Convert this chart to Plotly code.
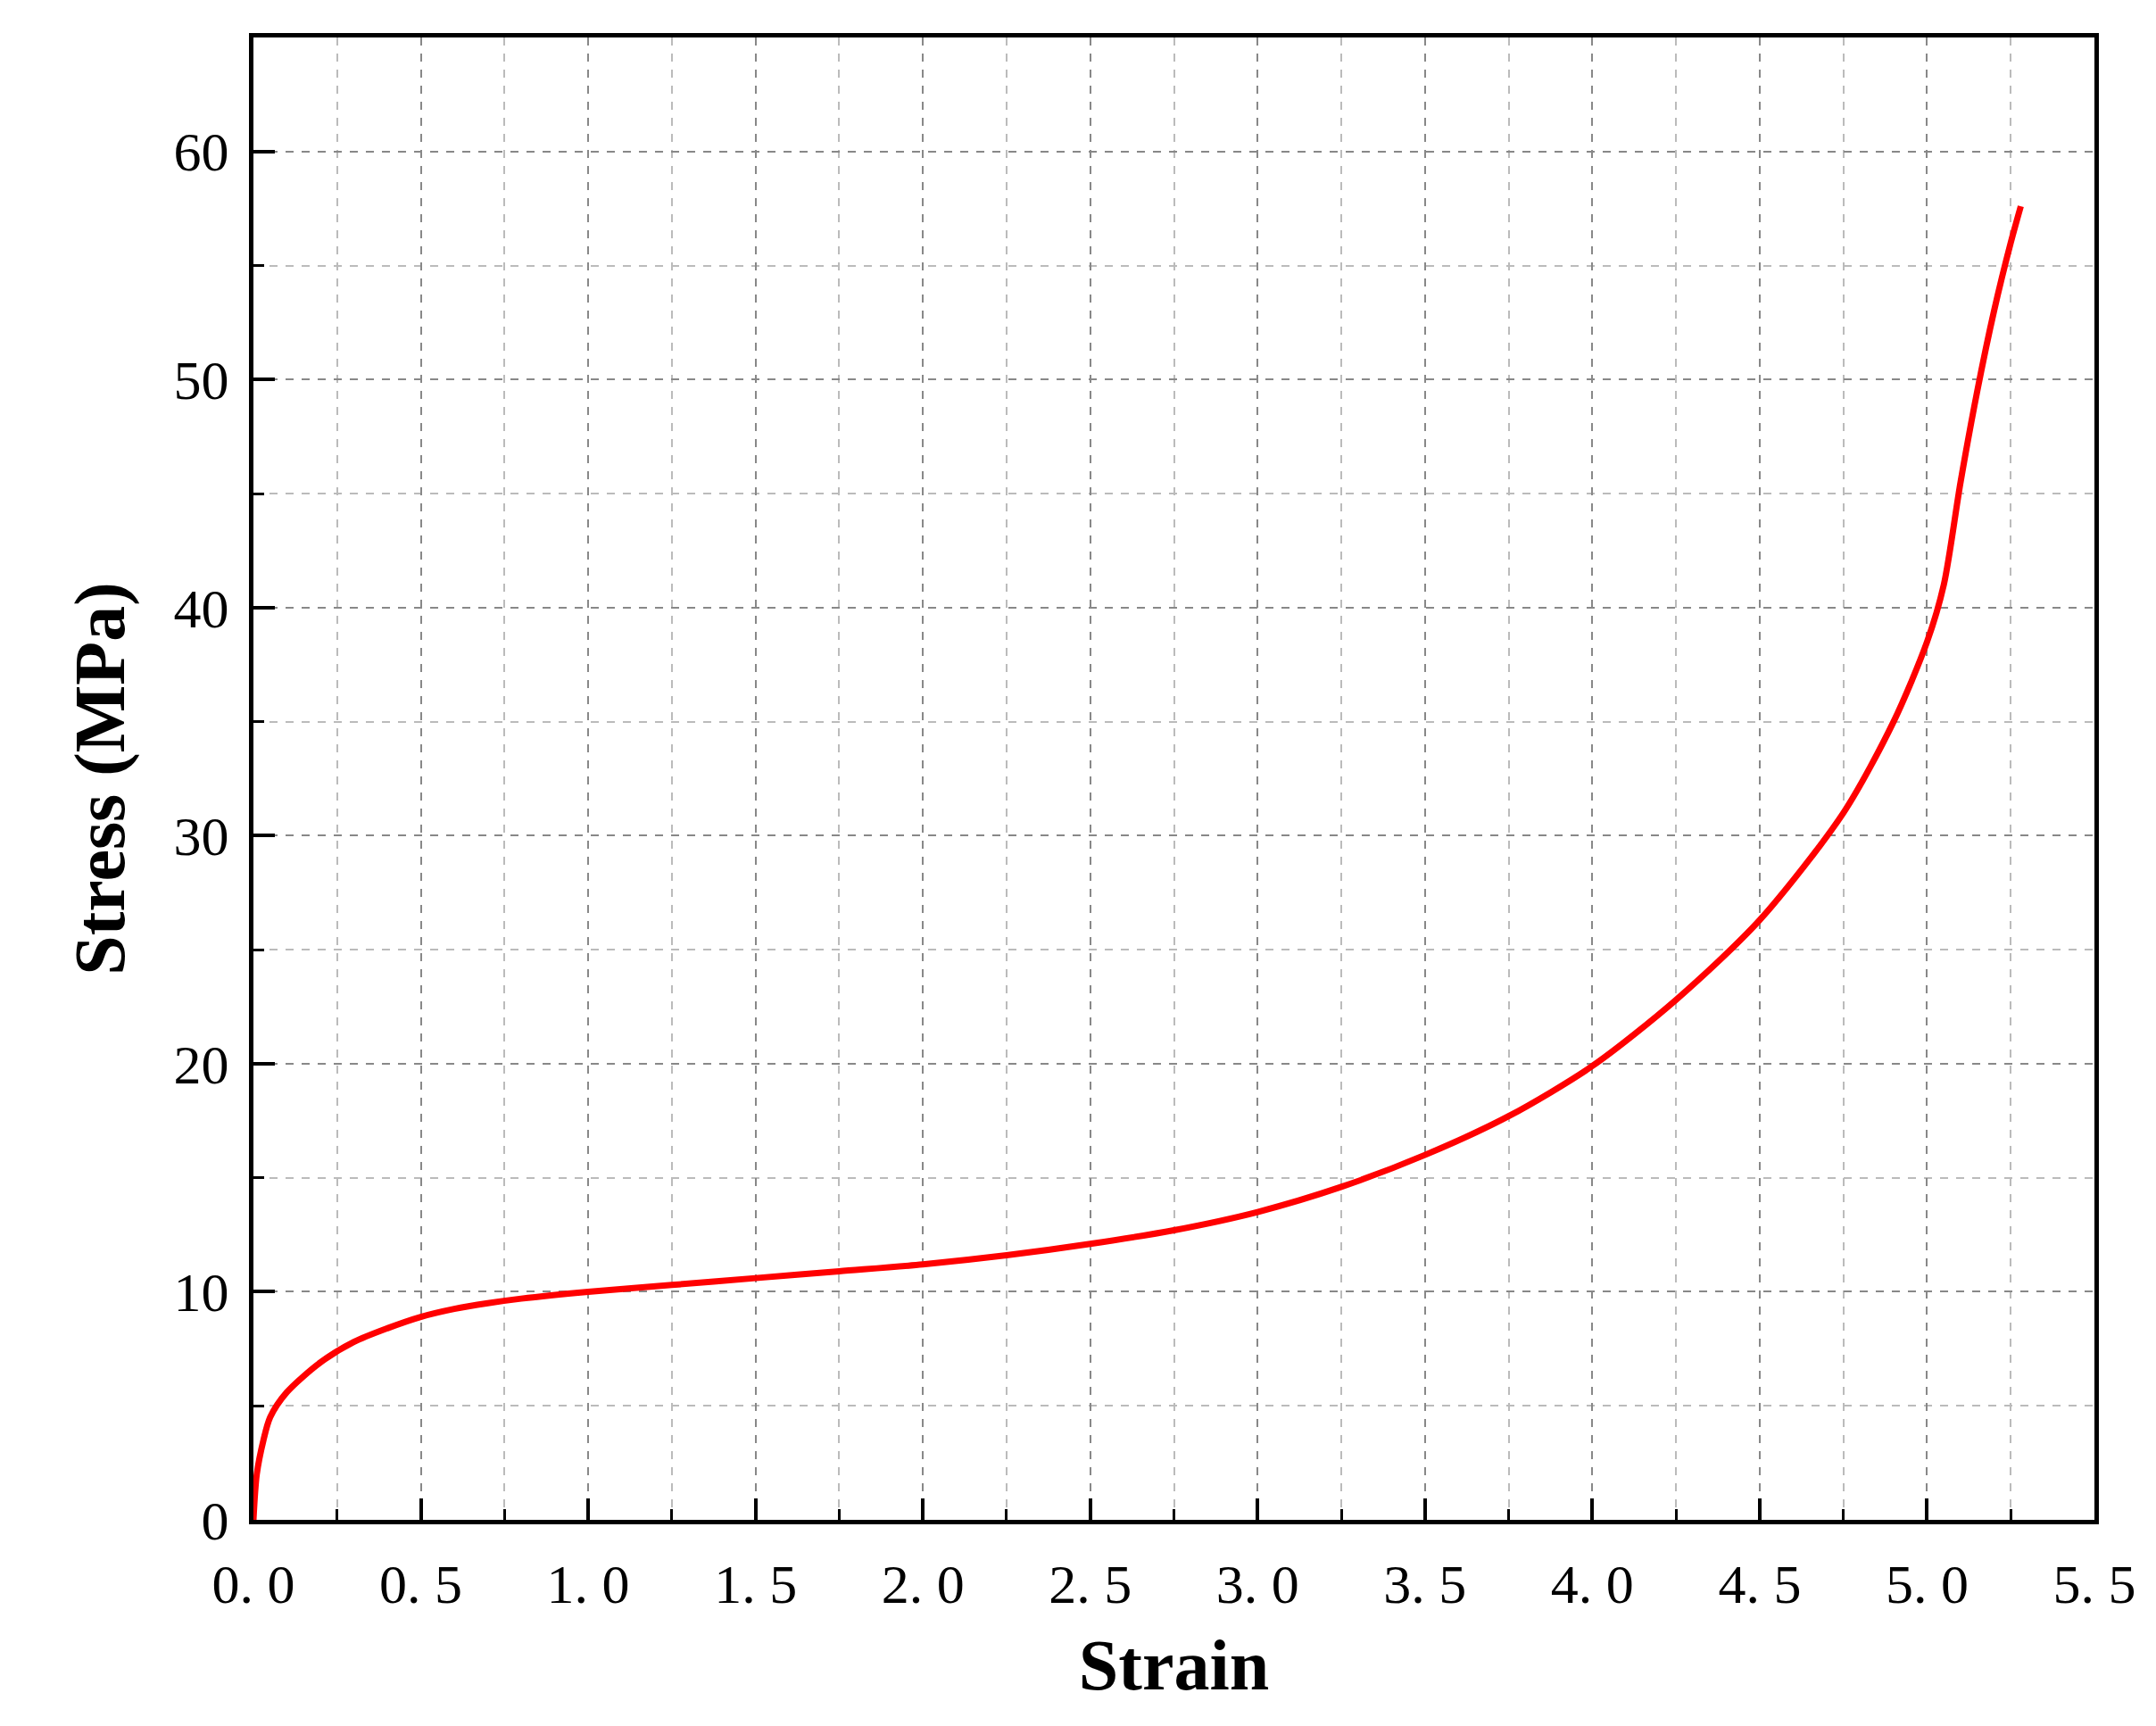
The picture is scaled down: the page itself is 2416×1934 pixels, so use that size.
import plotly.graph_objects as go

strain = [0, 0.01, 0.03, 0.05, 0.1, 0.2, 0.3, 0.4, 0.5, 0.6, 0.7, 0.8, 1.0, 1.25, 1.5, 1.75, 2.0, 2.25, 2.5, 2.75, 3.0, 3.25, 3.5, 3.75, 4.0, 4.25, 4.5, 4.75, 4.9, 5.0, 5.05, 5.1, 5.15, 5.2, 5.25, 5.28]
stress = [0, 2.0, 3.5, 4.5, 5.6, 6.9, 7.8, 8.4, 8.9, 9.25, 9.5, 9.7, 10.0, 10.3, 10.6, 10.9, 11.2, 11.6, 12.1, 12.7, 13.5, 14.6, 16.0, 17.7, 19.9, 22.8, 26.3, 31.0, 35.0, 38.5, 41.0, 45.5, 49.5, 53.0, 56.0, 57.6]
xticks = [0, 0.5, 1.0, 1.5, 2.0, 2.5, 3.0, 3.5, 4.0, 4.5, 5.0, 5.5]
xticklabels = ["0. 0", "0. 5", "1. 0", "1. 5", "2. 0", "2. 5", "3. 0", "3. 5", "4. 0", "4. 5", "5. 0", "5. 5"]
yticks = [0, 10, 20, 30, 40, 50, 60]

font = "Liberation Serif, Times New Roman, serif"
fig = go.Figure(go.Scatter(x=strain, y=stress, mode="lines", line=dict(color="#ff0000", width=7, shape="spline", smoothing=0.8)))
common = dict(showline=True, linecolor="black", linewidth=5, mirror=True,
              showgrid=True, gridcolor="#888", griddash="dash", gridwidth=2,
              ticks="inside", ticklen=24, tickwidth=4, tickcolor="black",
              tickfont=dict(family=font, size=62, color="black"), zeroline=False)
fig.update_xaxes(range=[0, 5.5], tickvals=xticks, ticktext=xticklabels, ticklabelstandoff=14,
                 minor=dict(dtick=0.25, ticks="inside", ticklen=12, tickwidth=3, tickcolor="black", showgrid=True, gridcolor="#bbb", griddash="dash", gridwidth=1.5),
                 title=dict(text="<b>Strain</b>", font=dict(family=font, size=80, color="black"), standoff=30), **common)
fig.update_yaxes(range=[0, 65], tickvals=yticks, ticklabelstandoff=10,
                 minor=dict(dtick=5, ticks="inside", ticklen=12, tickwidth=3, tickcolor="black", showgrid=True, gridcolor="#bbb", griddash="dash", gridwidth=1.5),
                 title=dict(text="<b>Stress (MPa)</b>", font=dict(family=font, size=80, color="black"), standoff=30), **common)
fig.update_layout(width=2416, height=1934, plot_bgcolor="white", paper_bgcolor="white",
                  showlegend=False, margin=dict(l=276, r=77, t=34, b=239))
fig.write_html("out.html")
